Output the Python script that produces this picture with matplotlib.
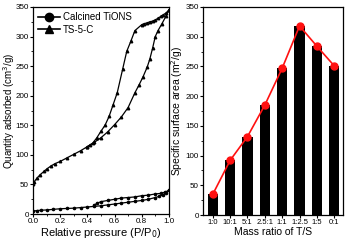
import numpy as np
import matplotlib
matplotlib.use("Agg")
import matplotlib.pyplot as plt
from matplotlib.ticker import MultipleLocator

plt.rcParams['font.family'] = ['Liberation Sans', 'DejaVu Sans']

# isotherm data, TS-5-C (upper) adsorption / desorption
ts_ads_p = [0.0, 0.01, 0.03, 0.05, 0.08, 0.1, 0.13, 0.16, 0.2, 0.25, 0.3, 0.35, 0.4, 0.45,
            0.5, 0.55, 0.6, 0.65, 0.7, 0.75, 0.78, 0.81, 0.84, 0.86, 0.88, 0.9, 0.92, 0.95, 0.98, 1.0]
ts_ads_q = [50, 55, 61, 66, 72, 76, 81, 85, 89, 95, 101, 107, 114, 121,
            129, 139, 151, 164, 180, 205, 218, 232, 248, 262, 280, 300, 310, 322, 335, 345]
ts_des_p = [1.0, 0.98, 0.96, 0.94, 0.92, 0.9, 0.88, 0.86, 0.84, 0.82, 0.8, 0.75, 0.72,
            0.69, 0.66, 0.62, 0.59, 0.56, 0.53, 0.5, 0.47, 0.44, 0.42, 0.4]
ts_des_q = [345, 340, 337, 334, 331, 328, 326, 325, 323, 322, 320, 310, 292,
            275, 245, 205, 185, 165, 150, 140, 129, 120, 117, 114]

# Calcined TiONS (lower)
ti_ads_p = [0.0, 0.03, 0.06, 0.1, 0.15, 0.2, 0.25, 0.3, 0.35, 0.4, 0.45, 0.5, 0.55, 0.6,
            0.65, 0.7, 0.75, 0.8, 0.85, 0.9, 0.93, 0.96, 0.98, 1.0]
ti_ads_q = [5, 6, 6.5, 7, 8, 9, 9.5, 10, 11, 12, 13, 14, 15.5, 17,
            18.5, 20, 21.5, 23, 25, 28, 30, 33, 36, 40]
ti_des_p = [1.0, 0.97, 0.94, 0.9, 0.85, 0.8, 0.75, 0.7, 0.65, 0.6, 0.55, 0.5, 0.47, 0.45]
ti_des_q = [40, 37, 35, 34, 32, 31, 29, 28, 27, 25, 23, 21, 18, 15]

# surface area data
ratios = ['1:0', '10:1', '5:1', '2.5:1', '1:1', '1:2.5', '1:5', '0:1']
area = [35, 92, 132, 185, 247, 318, 284, 251]

fig = plt.figure(figsize=(3.46, 2.4), dpi=100)
ax1 = fig.add_axes([0.0954, 0.108, 0.3926, 0.863])
ax2 = fig.add_axes([0.587, 0.104, 0.404, 0.867])

lw = 0.9
ax1.plot(ti_ads_p, ti_ads_q, '-o', color='k', lw=lw, ms=1.6, label='Calcined TiONS')
ax1.plot(ti_des_p, ti_des_q, '-o', color='k', lw=lw, ms=1.6)
ax1.plot(ts_ads_p, ts_ads_q, '-^', color='k', lw=lw, ms=1.8, label='TS-5-C')
ax1.plot(ts_des_p, ts_des_q, '-^', color='k', lw=lw, ms=1.8)

h1, l1 = ax1.get_legend_handles_labels()
h1[0] = ax1.plot([], [], '-o', color='k', lw=1.2, ms=6)[0]
h1[1] = ax1.plot([], [], '-^', color='k', lw=1.2, ms=6)[0]
ax1.legend(h1, l1, loc='upper left', frameon=False, fontsize=7, handlelength=2.2,
           handletextpad=0.3, borderaxespad=0.15, labelspacing=0.25)

ax1.set_xlim(0, 1.0)
ax1.set_ylim(0, 350)
ax1.xaxis.set_major_locator(MultipleLocator(0.2))
ax1.xaxis.set_minor_locator(MultipleLocator(0.1))
ax1.yaxis.set_major_locator(MultipleLocator(50))
ax1.yaxis.set_minor_locator(MultipleLocator(25))
ax1.set_xlabel('Relative pressure (P/P$_0$)', fontsize=8, labelpad=0.5)
ax1.set_ylabel('Quantity adsorbed (cm$^3$/g)', fontsize=7)
ax1.yaxis.set_label_coords(-0.118, 0.5)

x = np.arange(len(ratios))
ax2.bar(x, area, width=0.6, color='k')
ax2.plot(x, area, '-o', color='#ff1010', lw=1.2, ms=5)
ax2.set_xticks(x)
ax2.set_xticklabels(ratios)
ax2.set_xlim(-0.56, 7.5)
ax2.set_ylim(0, 350)
ax2.yaxis.set_major_locator(MultipleLocator(50))
ax2.yaxis.set_minor_locator(MultipleLocator(25))
ax2.set_xlabel('Mass ratio of T/S', fontsize=7.5, labelpad=0.5)
ax2.set_ylabel('Specific surface area (m$^2$/g)', fontsize=7.5, labelpad=0.5)

for ax in (ax1, ax2):
    ax.tick_params(which='major', direction='out', length=2.2, width=0.8, labelsize=5.8, pad=0.8)
    ax.tick_params(which='minor', direction='out', length=1.2, width=0.6)
    for s in ax.spines.values():
        s.set_linewidth(0.9)
ax2.tick_params(axis='x', which='minor', bottom=False)
ax2.tick_params(axis='x', labelsize=5.5)

fig.savefig('out.png', dpi=100)
